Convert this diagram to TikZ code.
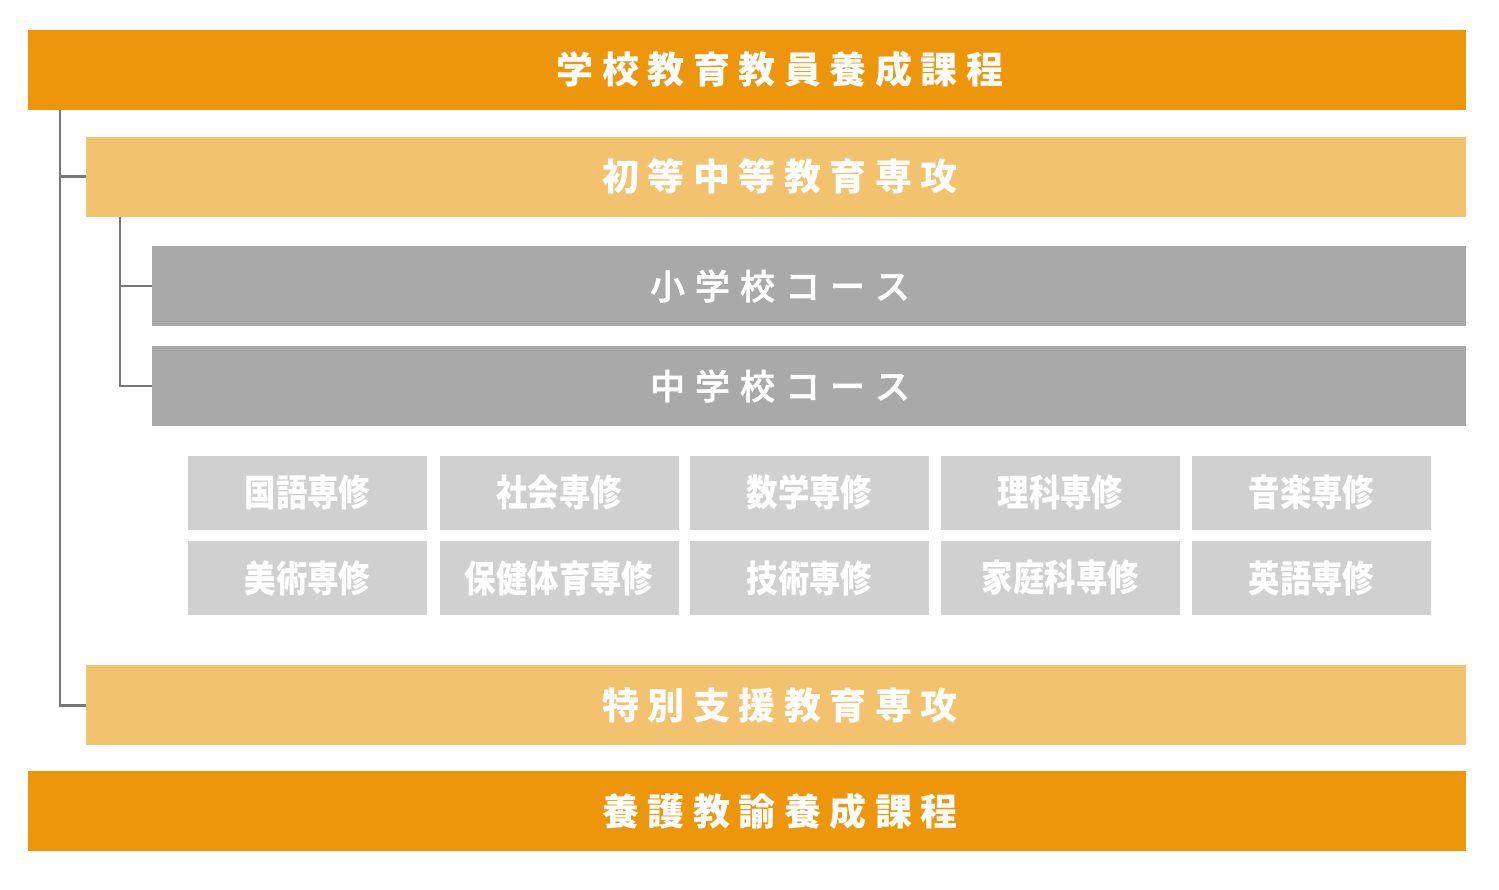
\documentclass[tikz,border=0pt]{standalone}
\usepackage{graphicx}
\usepackage{fontspec}
\newfontfamily\jp{Noto Sans CJK JP}
\newfontfamily\jpm{Noto Sans CJK JP Medium}[FakeBold=1.6]
\definecolor{cOrange}{HTML}{EE960B}
\definecolor{cLight}{HTML}{F3C26E}
\definecolor{cGray}{HTML}{A9A9A9}
\definecolor{cPale}{HTML}{D0D0D0}
\definecolor{cLine}{HTML}{777777}
\makeatletter
\newdimen\spcamt
\newcommand\spcd[2]{\spcamt=#1\relax\spc@#2\relax}
\def\spc@#1#2{#1\ifx\relax#2\expandafter\@gobble\else\kern\spcamt\expandafter\spc@\fi#2}
\makeatother
\begin{document}
\begin{tikzpicture}[x=1pt,y=-1pt,
  bar/.style={draw=none, inner sep=0pt, outer sep=0pt},
  wide/.style={bar, minimum width=1438pt, minimum height=80pt},
  mid/.style={bar, minimum width=1380pt, minimum height=80pt},
  course/.style={bar, fill=cGray, minimum width=1314pt, minimum height=80pt},
  subj/.style={bar, fill=cPale, minimum width=239pt, minimum height=73.5pt, text=white,
     font=\jp\bfseries\fontsize{37}{40}\selectfont},
  title/.style={text=white, inner sep=0pt, font=\jp\bfseries\fontsize{37}{40}\selectfont},
  ctitle/.style={text=white, inner sep=0pt, font=\jpm\fontsize{35}{40}\selectfont},
  conn/.style={draw=cLine, line width=2.5pt, line join=miter}]
\useasboundingbox (0,0) rectangle (1499,889);
\fill[white] (0,0) rectangle (1499,889);
% boxes
\node[wide, fill=cOrange] (top) at (747,69.5) {};
\node[mid, fill=cLight] (p1) at (776,176.5) {};
\node[course] (g1) at (809,286) {};
\node[course] (g2) at (809,386) {};
\node[mid, fill=cLight] (p2) at (776,705.25) {};
\node[wide, fill=cOrange] (bot) at (747,811.25) {};
% labels
\node[title] (topl) at (780,69.5) {\spcd{8.5pt}{学校教育教員養成課程}};
\node[title] (p1l) at (780,176.5) {\spcd{8.5pt}{初等中等教育専攻}};
\node[ctitle] (g1l) at (780,286) {\spcd{10pt}{小学校コース}};
\node[ctitle] (g2l) at (780,386) {\spcd{10pt}{中学校コース}};
\node[title] (p2l) at (780,705.25) {\spcd{8.5pt}{特別支援教育専攻}};
\node[title] (botl) at (780,811.25) {\spcd{8.5pt}{養護教諭養成課程}};
% subjects
\node[subj] (s1) at (307.5,492.75) {\scalebox{0.85}[1]{国語専修}};
\node[subj] (s2) at (559,492.75) {\scalebox{0.85}[1]{社会専修}};
\node[subj] (s3) at (809.5,492.75) {\scalebox{0.85}[1]{数学専修}};
\node[subj] (s4) at (1060.5,492.75) {\scalebox{0.85}[1]{理科専修}};
\node[subj] (s5) at (1311.5,492.75) {\scalebox{0.85}[1]{音楽専修}};
\node[subj] (s6) at (307.5,578) {\scalebox{0.85}[1]{美術専修}};
\node[subj] (s7) at (559,578) {\scalebox{0.85}[1]{保健体育専修}};
\node[subj] (s8) at (809.5,578) {\scalebox{0.85}[1]{技術専修}};
\node[subj] (s9) at (1060.5,578) {\scalebox{0.85}[1]{家庭科専修}};
\node[subj] (s10) at (1311.5,578) {\scalebox{0.85}[1]{英語専修}};
% connectors
\draw[conn] ([xshift=32pt]top.south west) |- (p1.west);
\draw[conn] ([xshift=32pt]top.south west) |- (p2.west);
\draw[conn] ([xshift=34pt]p1.south west) |- (g1.west);
\draw[conn] ([xshift=34pt]p1.south west) |- (g2.west);
\end{tikzpicture}
\end{document}
